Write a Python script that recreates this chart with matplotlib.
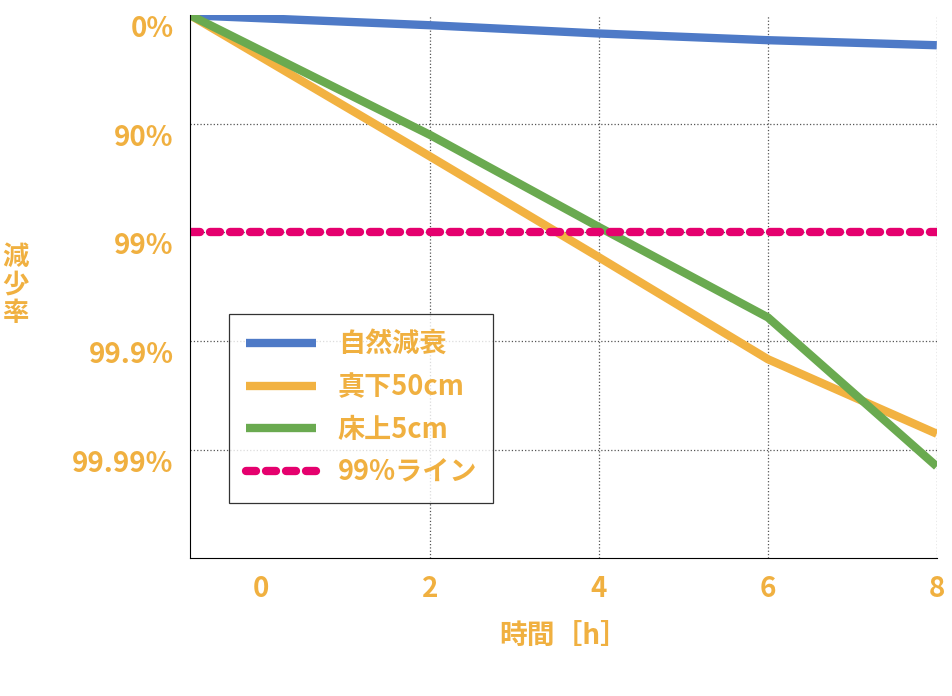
import matplotlib
matplotlib.use('Agg')
import matplotlib.pyplot as plt
import numpy as np

plt.rcParams['font.family'] = ['Noto Sans CJK JP', 'DejaVu Sans']

# hours (first point sits at the left edge of the axis)
hours = [-0.84, 2, 4, 6, 8]
natural = [1.0, 0.81, 0.68, 0.59, 0.53]
below_50cm = [1.0, 0.05, 0.0059, 0.00068, 0.00014]
floor_5cm = [1.0, 0.079, 0.0112, 0.00165, 0.00007]
line_99 = [0.01, 0.01, 0.01, 0.01, 0.01]

yticks = [1, 0.1, 0.01, 0.001, 0.0001]
ylabels = ['0%', '90%', '99%', '99.9%', '99.99%']
xticks = [0, 2, 4, 6, 8]

orange_txt = '#f0b040'

fig = plt.figure(figsize=(9.52, 6.96), dpi=100)
ax = fig.add_axes([0.2, 0.198, 0.784, 0.78])

ax.plot(hours, natural, color='#4e7ac7', lw=6, label='自然減衰', solid_capstyle='butt')
ax.plot(hours, below_50cm, color='#f2b241', lw=6, label='真下50cm', solid_capstyle='butt')
ax.plot(hours, floor_5cm, color='#6aaa50', lw=6, label='床上5cm', solid_capstyle='butt')
ax.plot(hours, line_99, color='#e5006e', lw=6, ls=(0, (1.2, 1.2)), label='99%ライン',
        dash_capstyle='round')

ax.set_yscale('log')
ax.set_ylim(1e-5, 1.0)
ax.set_xlim(-0.84, 8)
ax.minorticks_off()
ax.set_yticks(yticks)
ax.set_yticklabels(ylabels)
ax.set_xticks(xticks)
ax.tick_params(length=0, labelsize=20, labelcolor=orange_txt, pad=12)
for t in ax.get_xticklabels() + ax.get_yticklabels():
    t.set_fontweight('bold')
for t in ax.get_yticklabels():
    t.set_va('top')

for y in yticks[1:]:
    ax.axhline(y, color='#555555', lw=0.9, ls=':', zorder=0)
for x in [2, 4, 6, 8]:
    ax.axvline(x, color='#555555', lw=0.9, ls=':', zorder=0)

ax.spines['top'].set_visible(False)
ax.spines['right'].set_visible(False)

ax.set_xlabel('時間［h］', color=orange_txt, fontsize=20, fontweight='bold', labelpad=14)
fig.text(0.016, 0.59, '減\n少\n率', color=orange_txt, fontsize=19, fontweight='bold',
         ha='center', va='center', linespacing=1.05)

leg = ax.legend(loc='upper left', bbox_to_anchor=(0.034, 0.475), fontsize=19.5,
                frameon=True, fancybox=False, edgecolor='black', handlelength=2.6,
                labelspacing=0.55, borderpad=0.6)
leg.get_frame().set_linewidth(0.9)
for t in leg.get_texts():
    t.set_color(orange_txt)
    t.set_fontweight('bold')

fig.savefig('out.png', dpi=100)
